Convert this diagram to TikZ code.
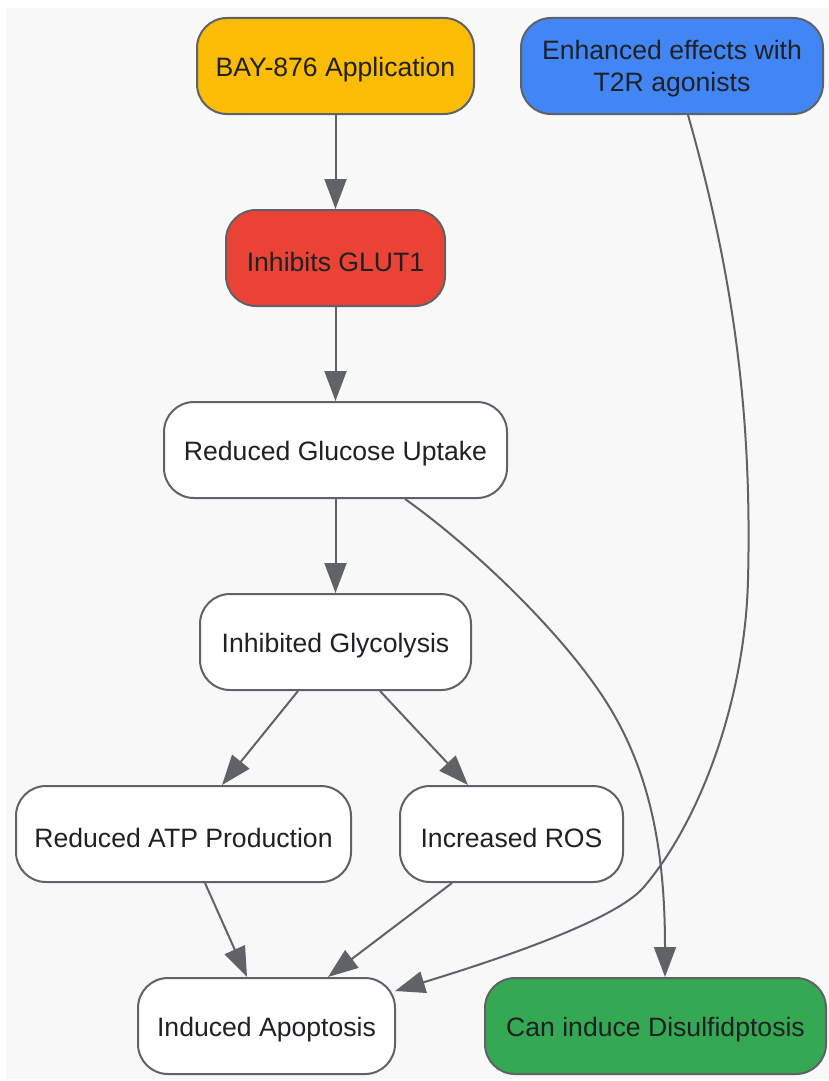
\documentclass[tikz,border=0pt]{standalone}
\usepackage{fontspec}
\setmainfont{Liberation Sans}
\usetikzlibrary{arrows.meta,calc}
\definecolor{bgc}{HTML}{F8F8F8}
\definecolor{edgec}{HTML}{5F6368}
\definecolor{txtc}{HTML}{202124}
\definecolor{yel}{HTML}{FBBC05}
\definecolor{blu}{HTML}{4285F4}
\definecolor{redc}{HTML}{EA4335}
\definecolor{grn}{HTML}{34A853}
\newcommand{\lowtxt}[1]{\raisebox{-3.5pt}[\height][\depth]{#1}}
\tikzset{
  box/.style={draw=edgec, line width=2pt, rounded corners=30pt, fill=white,
    minimum height=96pt, inner sep=0pt, text=txtc, align=center,
    font=\fontsize{26.6}{32}\selectfont},
  conn/.style={draw=edgec, line width=2pt, -{Triangle[length=30pt,width=22pt]}, fill=none}
}
\begin{document}
\begin{tikzpicture}[x=1pt,y=-1pt]
\useasboundingbox (0,0) rectangle (829,1081);
\fill[bgc] (6,8) rectangle (829,1079);
\node[box, fill=yel, minimum width=277pt] (bay) at (335.5,66) {\lowtxt{BAY-876 Application}};
\node[box, fill=blu, minimum width=302pt] (enh) at (672,66) {\lowtxt{\begin{tabular}{@{}c@{}}Enhanced effects with\\T2R agonists\end{tabular}}};
\node[box, fill=redc, minimum width=219pt] (glut) at (335.5,258) {\lowtxt{Inhibits GLUT1}};
\node[box, minimum width=343pt] (rgu) at (335.5,450) {\lowtxt{Reduced Glucose Uptake}};
\node[box, minimum width=271pt] (ig) at (335.5,642) {\lowtxt{Inhibited Glycolysis}};
\node[box, minimum width=335pt] (atp) at (183.5,834) {\lowtxt{Reduced ATP Production}};
\node[box, minimum width=223pt] (ros) at (511.5,834) {\lowtxt{Increased ROS}};
\node[box, minimum width=257pt] (apo) at (266.5,1026) {\lowtxt{Induced Apoptosis}};
\node[box, fill=grn, minimum width=341pt] (dis) at (655.5,1026) {\lowtxt{Can induce Disulfidptosis}};

\draw[conn] (bay) -- (glut);
\draw[conn] (glut) -- (rgu);
\draw[conn] (rgu) -- (ig);
\draw[conn] ($(ig.south)+(-37.5,0)$) -- ($(atp.north)+(38.5,0)$);
\draw[conn] ($(ig.south)+(44.5,0)$) -- ($(ros.north)+(-43.5,0)$);
\draw[conn] ($(atp.south)+(21.5,0)$) -- ($(apo.north)+(-19.5,0)$);
\draw[conn] ($(ros.south)+(-59.5,0)$) -- ($(apo.north)+(61.5,0)$);
\draw[conn] ($(rgu.south)+(69.5,0)$) .. controls (470,545) and (560,630) .. (605,700)
  .. controls (650,770) and (665,850) .. ($(dis.north)+(9.5,0)$);
\draw[conn] ($(enh.south)+(16,0)$) .. controls (735,280) and (752,420) .. (748,580)
  .. controls (745,700) and (700,822) .. (643,888)
  .. controls (612,923) and (480,965) .. ($(apo.east)+(-1,-35)$);
\end{tikzpicture}
\end{document}
